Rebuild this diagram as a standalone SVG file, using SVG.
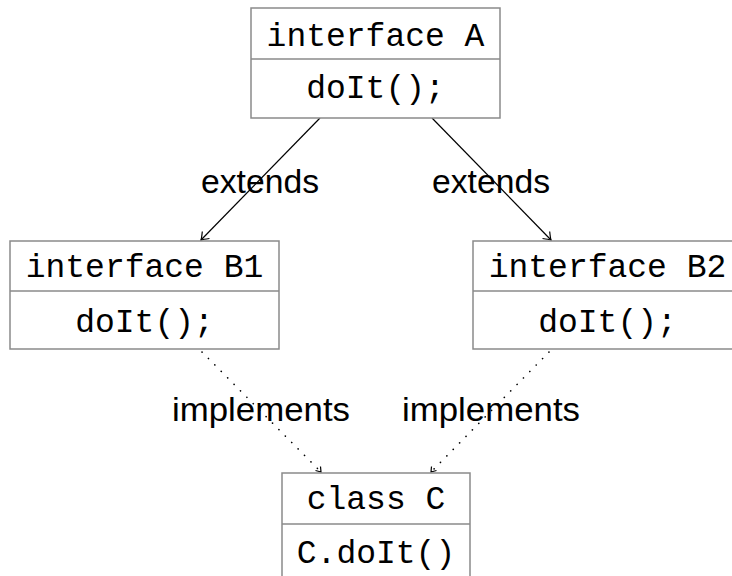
<svg xmlns="http://www.w3.org/2000/svg" width="732" height="576" viewBox="0 0 732 576">
<style>
.box{fill:#fff;stroke:#8a8a8a;stroke-width:1.5}
.mono{font-family:"Liberation Mono","DejaVu Sans Mono",monospace;font-size:33px;fill:#000;text-anchor:middle}
.lbl{font-family:"Liberation Sans","DejaVu Sans",sans-serif;font-size:33px;fill:#000;text-anchor:middle}
.edge{stroke:#000;stroke-width:1.2;fill:none}
.dot{stroke:#000;stroke-width:1.6;fill:none;stroke-dasharray:0.1 9;stroke-linecap:round}
</style>
<defs>
<marker id="arr" viewBox="-10 -6 12 12" refX="0" refY="0" markerWidth="12" markerHeight="12" markerUnits="userSpaceOnUse" orient="auto">
<path d="M-7,-5 Q-2,-1 0,0 Q-2,1 -7,5" fill="none" stroke="#000" stroke-width="1.2"/>
</marker>
</defs>
<g id="connectors">
<line class="edge" x1="320" y1="118" x2="201" y2="240" marker-end="url(#arr)"/>
<line class="edge" x1="432" y1="118" x2="551" y2="240" marker-end="url(#arr)"/>
<line class="dot" x1="202" y1="352" x2="321" y2="472"/>
<line class="dot" x1="549" y1="352" x2="431" y2="472"/>
<path d="M321,472 m-5.5,-1.5 l5.5,1.5 l-0.5,-5.5" class="edge" stroke-width="1.2"/>
<path d="M431,472 m0.5,-5.5 l-0.5,5.5 l5.5,-1.5" class="edge" stroke-width="1.2"/>
<text class="lbl" x="260" y="193" textLength="118" lengthAdjust="spacingAndGlyphs">extends</text>
<text class="lbl" x="491" y="193" textLength="118" lengthAdjust="spacingAndGlyphs">extends</text>
<text class="lbl" x="261" y="421" textLength="178" lengthAdjust="spacingAndGlyphs">implements</text>
<text class="lbl" x="491" y="421" textLength="178" lengthAdjust="spacingAndGlyphs">implements</text>
</g>
<g id="A">
<rect class="box" x="251" y="8" width="249" height="110"/>
<line class="box" x1="251" y1="59" x2="500" y2="59"/>
<text class="mono" x="375.5" y="46">interface A</text>
<text class="mono" x="375.5" y="98">doIt();</text>
</g>
<g id="B1">
<rect class="box" x="10" y="241" width="269" height="108"/>
<line class="box" x1="10" y1="291" x2="279" y2="291"/>
<text class="mono" x="144.5" y="277">interface B1</text>
<text class="mono" x="144.5" y="332">doIt();</text>
</g>
<g id="B2">
<rect class="box" x="473" y="241" width="269" height="108"/>
<line class="box" x1="473" y1="291" x2="742" y2="291"/>
<text class="mono" x="607.5" y="277">interface B2</text>
<text class="mono" x="607.5" y="332">doIt();</text>
</g>
<g id="C">
<rect class="box" x="282" y="473" width="188" height="120"/>
<line class="box" x1="282" y1="524" x2="470" y2="524"/>
<text class="mono" x="376" y="509">class C</text>
<text class="mono" x="376" y="563">C.doIt()</text>
</g>
</svg>
